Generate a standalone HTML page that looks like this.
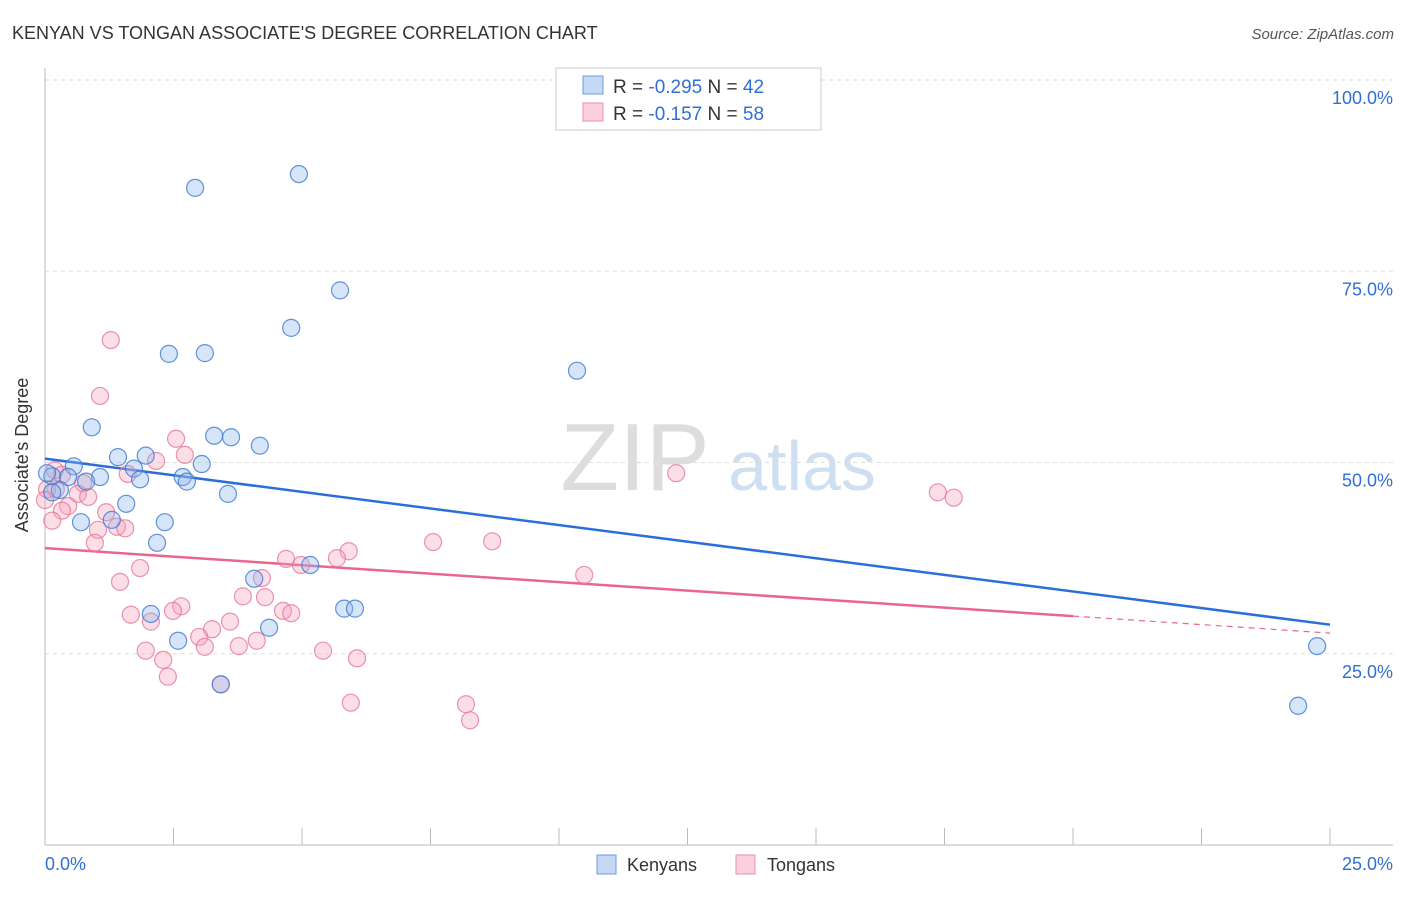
<!DOCTYPE html>
<html><head><meta charset="utf-8"><style>
body{margin:0;background:#fff;font-family:"Liberation Sans",sans-serif}
svg text{font-family:"Liberation Sans",sans-serif}
</style></head><body>
<svg id="c" width="1406" height="892">
<text x="12" y="39" font-size="18" fill="#333">KENYAN VS TONGAN ASSOCIATE'S DEGREE CORRELATION CHART</text>
<text x="1394" y="39" font-size="15" fill="#555" font-style="italic" text-anchor="end">Source: ZipAtlas.com</text>
<g><text x="635" y="490" font-size="96" fill="#ddd" font-family="Liberation Serif" text-anchor="middle">ZIP</text><text x="802" y="490" font-size="70" fill="#cfdff2" text-anchor="middle">atlas</text></g>
<g id="grid"></g><g id="axes"></g><g id="trends"></g><g id="pts"></g>
<text x="28" y="455" font-size="18" fill="#333" transform="rotate(-90 28 455)" text-anchor="middle">Associate's Degree</text>
<g>
<rect x="556" y="68" width="265" height="62" fill="#fff" stroke="#ccc"/>
<rect x="583" y="76" width="20" height="18" fill="#c5d9f5" stroke="#6a9be0"/>
<rect x="583" y="103" width="20" height="18" fill="#fbd0dc" stroke="#e88fab"/>
<text x="613" y="93" font-size="19" fill="#333">R = <tspan fill="#2f6fd6">-0.295</tspan>   N = <tspan fill="#2f6fd6">42</tspan></text>
<text x="613" y="120" font-size="19" fill="#333">R =  <tspan fill="#2f6fd6">-0.157</tspan>   N = <tspan fill="#2f6fd6">58</tspan></text>
</g>
<g>
<rect x="597" y="855" width="19" height="19" fill="#c5d9f5" stroke="#6a9be0"/><text x="627" y="871" font-size="18" fill="#333">Kenyans</text>
<rect x="736" y="855" width="19" height="19" fill="#fbd0dc" stroke="#e88fab"/><text x="767" y="871" font-size="18" fill="#333">Tongans</text>
</g>
</svg>
<script>
const kenX=[2.92,4.94,5.74,4.79,2.41,3.11,10.35,0.91,3.29,3.62,4.18,1.42,1.96,1.73,3.05,0.56,1.07,2.68,2.76,1.85,0.14,0.45,0.80,0.29,0.14,3.56,1.58,0.70,2.33,1.30,2.18,5.16,4.07,2.06,5.82,6.03,4.36,2.59,3.42,24.75,24.38,0.04];
const kenY=[85.9,87.7,72.5,67.6,64.2,64.3,62.0,54.6,53.5,53.3,52.2,50.7,50.9,49.2,49.8,49.5,48.1,48.1,47.5,47.8,48.2,48.1,47.5,46.4,46.1,45.9,44.6,42.2,42.2,42.5,39.5,36.6,34.8,30.2,30.9,30.9,28.4,26.7,21.0,26.0,18.2,48.6];
const tonX=[1.28,1.07,2.55,2.72,2.16,1.61,0.33,0.74,0.64,0.84,0.21,0.45,0.33,1.19,1.03,1.40,1.56,0.97,0.14,1.85,1.46,4.69,4.98,5.91,5.68,4.22,1.67,2.65,2.49,2.06,3.85,4.28,3.60,3.25,4.63,4.79,3.00,3.11,4.12,3.77,1.96,2.30,2.39,5.41,6.07,5.95,3.42,8.19,8.27,7.55,8.70,10.49,12.28,17.37,17.68,0.04,0.0,0.19];
const tonY=[66.0,58.7,53.1,51.0,50.2,48.5,48.4,47.3,45.9,45.5,46.5,44.3,43.7,43.5,41.2,41.6,41.4,39.5,42.4,36.2,34.4,37.4,36.6,38.4,37.5,34.9,30.1,31.2,30.6,29.2,32.5,32.4,29.2,28.2,30.6,30.3,27.2,25.9,26.7,26.0,25.4,24.2,22.0,25.4,24.4,18.6,21.0,18.4,16.3,39.6,39.7,35.3,48.6,46.1,45.4,46.5,45.1,49.0];
const kenTrend=[50.5,28.8];
const tonTrend=[38.8,27.7];
const tonSolidEnd=20;
const yTicks=[25,50,75,100];
const yTickLabels=["25.0%","50.0%","75.0%","100.0%"];
const xTickLabels=["0.0%","25.0%"];
const NS="http://www.w3.org/2000/svg";
const X=v=>45+v/25*1285, Y=v=>845-v/100*765;
function mk(p,t,a){const e=document.createElementNS(NS,t);for(const k in a)e.setAttribute(k,a[k]);document.getElementById(p).appendChild(e);return e;}
yTicks.forEach((t,i)=>{
 const g=mk('grid','line',{x1:45,x2:1393,y1:Y(t),y2:Y(t),stroke:'#ddd','stroke-dasharray':'4,4'});
 
 
 const l=mk('grid','text',{x:1393,y:Y(t)+24,'font-size':18,fill:'#2f6fd6','text-anchor':'end'});l.textContent=yTickLabels[i];
 
 
});
const ya=mk('axes','line',{x1:45,x2:45,y1:68,y2:845,stroke:'#bbb'});


const xa=mk('axes','line',{x1:45,x2:1393,y1:845,y2:845,stroke:'#bbb'});


for(let k=0;k<=10;k++){const t=mk('axes','line',{x1:X(k*2.5),x2:X(k*2.5),y1:828,y2:845,stroke:'#bbb'});
 
 }
[[0,'start',45],[1,'end',1393]].forEach(([i,a,x])=>{const t=mk('axes','text',{x:x,y:870,'font-size':18,fill:'#2f6fd6','text-anchor':a});t.textContent=xTickLabels[i];
 
 });
function pts(xs,ys,fill,stroke,name){xs.forEach((x,i)=>{const c=mk('pts','circle',{cx:X(x),cy:Y(ys[i]),r:8.5,fill:fill,stroke:stroke,'stroke-width':1.2});
 
 });}
pts(tonX,tonY,'rgba(245,160,185,0.35)','rgba(230,120,155,0.8)','tongan-point');
pts(kenX,kenY,'rgba(140,180,235,0.35)','rgba(60,120,210,0.8)','kenyan-point');
const kt=mk('trends','line',{x1:X(0),y1:Y(kenTrend[0]),x2:X(25),y2:Y(kenTrend[1]),stroke:'#2a6fd8','stroke-width':2.5});


const tm=tonTrend[0]+(tonTrend[1]-tonTrend[0])*tonSolidEnd/25;
const tt=mk('trends','line',{x1:X(0),y1:Y(tonTrend[0]),x2:X(tonSolidEnd),y2:Y(tm),stroke:'#e8668f','stroke-width':2.5});


const td=mk('trends','line',{x1:X(tonSolidEnd),y1:Y(tm),x2:X(25),y2:Y(tonTrend[1]),stroke:'#e8668f','stroke-width':1.2,'stroke-dasharray':'6,5'});


</script>
</body></html>
